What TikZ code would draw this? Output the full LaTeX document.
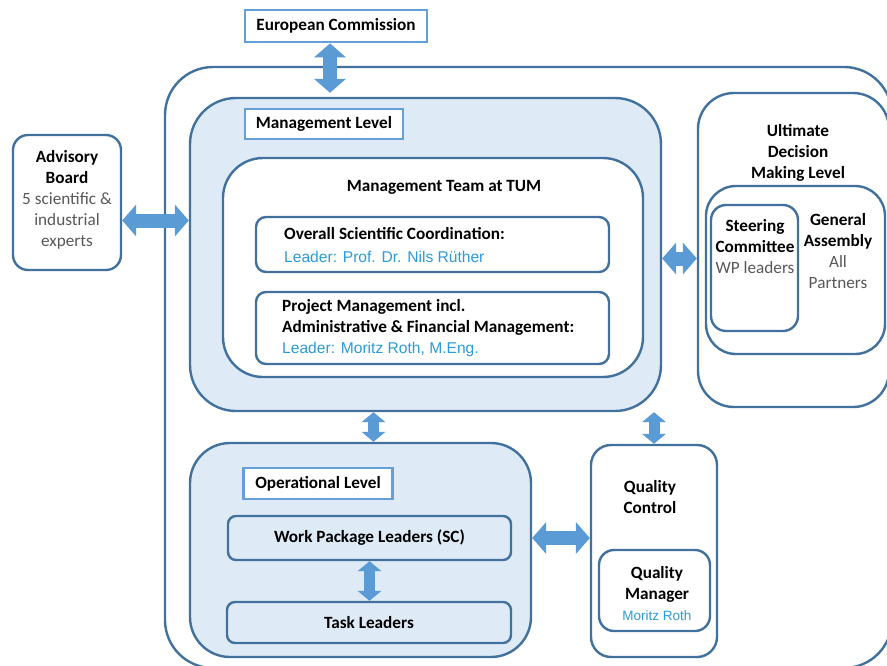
\documentclass[tikz,border=0pt]{standalone}
\usepackage{fontspec}
\setmainfont{Carlito}
\newfontfamily\arialfont{Liberation Sans}
\usetikzlibrary{arrows.meta,fit,positioning}
\definecolor{edgeblue}{RGB}{65,113,156}
\definecolor{paleblue}{RGB}{222,235,247}
\definecolor{arrowblue}{RGB}{91,155,213}
\definecolor{labelblue}{RGB}{100,160,215}
\definecolor{textblue}{RGB}{45,155,215}
\definecolor{textgray}{RGB}{89,89,89}
\newcommand{\leadtext}[1]{{\arialfont\mdseries\fontsize{15.6}{21}\selectfont\color{textblue}#1}}
\newcommand{\smallblue}[1]{{\arialfont\mdseries\fontsize{13.5}{19}\selectfont\color{textblue}#1}}
\newcommand{\grey}[1]{{\mdseries\color{textgray}#1}}
\tikzset{
  box/.style={draw=edgeblue, line width=2.4pt, inner sep=0pt},
  levelbox/.style={box, fill=paleblue},
  title/.style={inner sep=0pt, align=center, font=\bfseries\fontsize{17.2}{21}\selectfont},
  labelbox/.style={draw=labelblue, line width=2.8pt, fill=white, inner sep=0pt, font=\bfseries\fontsize{17.2}{21}\selectfont},
  bigarrow/.style={arrowblue, line width=14pt,
    {Triangle[width=32pt,length=14pt,line width=0pt]}-{Triangle[width=32pt,length=14pt,line width=0pt]}},
  smallarrow/.style={arrowblue, line width=11pt,
    {Triangle[width=24pt,length=10pt,line width=0pt]}-{Triangle[width=24pt,length=10pt,line width=0pt]}}
}
\begin{document}
\begin{tikzpicture}[x=1pt, y=-1pt]
  \useasboundingbox (0,0) rectangle (887,665);
  \clip (0,0) rectangle (887,665);
  % Outer frame
  \node[box, rounded corners=48pt, fit={(165,67) (892,668)}] (frame) {};
  % European Commission
  \node[labelbox, minimum width=182pt, minimum height=32pt] (ec) at (336,26) {European Commission};
  % Advisory Board
  \node[box, rounded corners=15pt, fit={(13,135) (121,270)}] (adv) {};
  \node[title] (advtext) at (67,200) {Advisory\\Board\\\grey{5 scientific \&}\\\grey{industrial}\\\grey{experts}};
  % Management level
  \node[levelbox, rounded corners=46pt, fit={(190,98) (661,411)}] (mgmt) {};
  \node[labelbox, minimum width=158pt, minimum height=30pt] (mglabel) at (324,124) {Management Level};
  \node[box, fill=white, rounded corners=40pt, fit={(223,158) (643,377)}] (mteam) {};
  \node[title] (mteamtitle) at (444,187) {Management Team at TUM};
  \node[box, fill=white, rounded corners=10pt, fit={(256,217) (609,272)}] (osc) {};
  \node[title, anchor=west, align=left] (osctext) at (284,245) {Overall Scientific Coordination:\\[2pt]\leadtext{Leader: Prof. Dr. Nils Rüther}};
  \node[box, fill=white, rounded corners=10pt, fit={(256,292) (609,364)}] (pm) {};
  \node[title, anchor=west, align=left] (pmtext) at (282,328) {Project Management incl.\\Administrative \& Financial Management:\\\leadtext{Leader: Moritz Roth, M.Eng.}};
  % Ultimate decision making level
  \node[box, fill=white, rounded corners=36pt, fit={(698,93) (889,407)}] (ult) {};
  \node[title] (ulttext) at (798,153) {Ultimate\\Decision\\Making Level};
  \node[box, fill=white, rounded corners=30pt, fit={(706,186) (885,354)}] (ga) {};
  \node[box, fill=white, rounded corners=15pt, fit={(711,205) (798,331)}] (stc) {};
  \node[title] (stctext) at (755,247) {Steering\\Committee\\\grey{WP leaders}};
  \node[title] (gatext) at (838,251) {General\\Assembly\\\grey{All}\\\grey{Partners}};
  % Operational level
  \node[levelbox, rounded corners=40pt, fit={(190,443) (531,657)}] (ops) {};
  \node[labelbox, minimum width=149pt, minimum height=31pt] (oplabel) at (318,483.5) {Operational Level};
  \node[levelbox, title, rounded corners=8pt, minimum width=283pt, minimum height=44pt] (wp) at (369.5,538) {Work Package Leaders (SC)};
  \node[levelbox, title, rounded corners=8pt, minimum width=284pt, minimum height=41pt] (task) at (369,622.5) {Task Leaders};
  % Quality control
  \node[box, fill=white, rounded corners=20pt, fit={(591,445) (717,657)}] (qc) {};
  \node[title] (qctext) at (650,497) {Quality\\Control};
  \node[box, fill=white, rounded corners=15pt, fit={(599,550) (710,631)}] (qm) {};
  \node[title] (qmtext) at (657,594) {Quality\\Manager\\\smallblue{Moritz Roth}};
  % Connectors
  \draw[bigarrow] ([xshift=-6pt]ec.south) -- ([xshift=-6pt,yshift=4pt]ec.south |- mgmt.north);
  \draw[bigarrow] ([yshift=-18pt]adv.east) -- ([yshift=-18pt]adv.east -| mgmt.west);
  \draw[bigarrow] ([yshift=-4pt]mgmt.east) -- ([yshift=-4pt]mgmt.east -| ult.west);
  \draw[smallarrow] ([xshift=13pt]ops.north) -- ([xshift=13pt]ops.north |- mgmt.south);
  \draw[smallarrow] (qc.north) -- (qc.north |- mgmt.south);
  \draw[bigarrow] ([yshift=13pt]qc.west) -- ([yshift=13pt]qc.west -| ops.east);
  \draw[smallarrow] (wp.south) -- (wp.south |- task.north);
\end{tikzpicture}
\end{document}
